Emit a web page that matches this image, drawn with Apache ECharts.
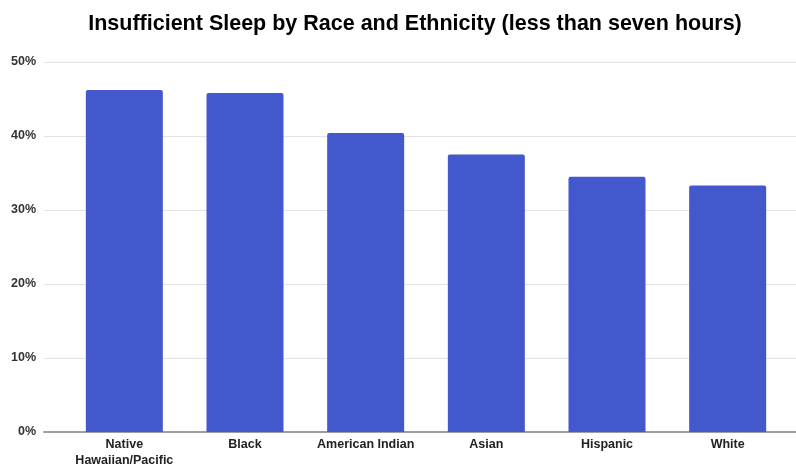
<!DOCTYPE html>
<html>
<head>
<meta charset="utf-8">
<script src="https://cdn.jsdelivr.net/npm/echarts@6/dist/echarts.min.js"></script>
<style>
  html, body { margin: 0; padding: 0; background: #fff; }
  #chart { width: 796px; height: 467px; }
</style>
</head>
<body>
<div id="chart"></div>
<script>
const categories = ['Native\nHawaiian/Pacific', 'Black', 'American Indian', 'Asian', 'Hispanic', 'White'];
const sleepShare = [46.2, 45.8, 40.4, 37.5, 34.5, 33.3];
const yTicks = [0, 10, 20, 30, 40, 50];

const font = '"Liberation Sans", Arial, sans-serif';
const chart = echarts.init(document.getElementById('chart'), null, { renderer: 'canvas' });

chart.setOption({
  backgroundColor: '#ffffff',
  animation: false,
  title: {
    text: 'Insufficient Sleep by Race and Ethnicity (less than seven hours)',
    left: 410,
    textAlign: 'center',
    top: 8,
    textStyle: { fontFamily: font, fontWeight: 'bold', fontSize: 21.5, color: '#000' }
  },
  grid: [
    { left: 44, right: 0, top: 62, bottom: 35, outerBoundsMode: 'none' },
    { left: 64, right: 8, top: 62, bottom: 35, outerBoundsMode: 'none' }
  ],
  xAxis: [
    {
      gridIndex: 0, type: 'value', min: 0, max: 1,
      axisLine: { show: true, lineStyle: { color: '#9e9e9e', width: 2 } },
      axisTick: { show: false }, axisLabel: { show: false }, splitLine: { show: false }
    },
    {
      gridIndex: 1, type: 'category', data: categories,
      axisLine: { show: false }, axisTick: { show: false },
      axisLabel: {
        interval: 0, margin: 5, lineHeight: 16,
        fontFamily: font, fontWeight: 'bold', fontSize: 12.5, color: '#222'
      }
    }
  ],
  yAxis: [
    {
      gridIndex: 0, type: 'value', min: yTicks[0], max: yTicks[yTicks.length - 1], interval: 10,
      axisLine: { show: false }, axisTick: { show: false },
      axisLabel: {
        formatter: '{value}%', margin: 8,
        fontFamily: font, fontWeight: 'bold', fontSize: 12.5, color: '#333'
      },
      splitLine: { lineStyle: { color: '#e3e3e3', width: 1 } }
    },
    {
      gridIndex: 1, type: 'value', min: 0, max: 50, show: false
    }
  ],
  series: [{
    type: 'bar',
    xAxisIndex: 1, yAxisIndex: 1,
    data: sleepShare,
    barWidth: 77,
    itemStyle: { color: '#4358cc', borderRadius: [2, 2, 0, 0] }
  }]
});
</script>
</body>
</html>
